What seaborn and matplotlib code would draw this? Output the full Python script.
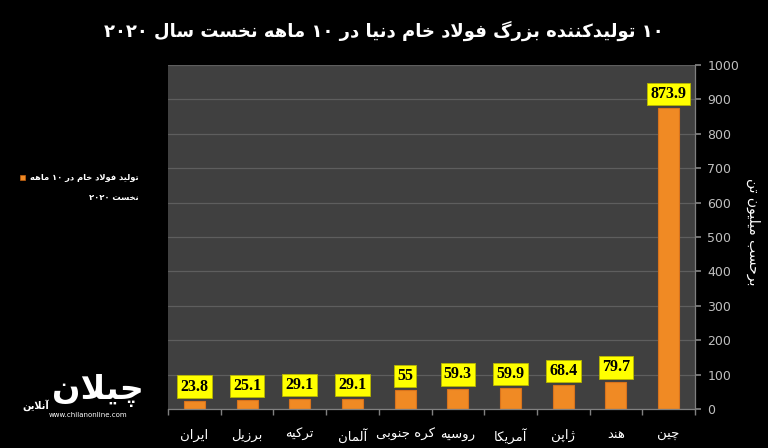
import re
import matplotlib
matplotlib.use("Agg")
import matplotlib.pyplot as plt
import seaborn as sns
import pandas as pd

# ---------------- data ----------------
categories = ["ایران", "برزیل", "ترکیه", "آلمان", "کره جنوبی",
              "روسیه", "آمریکا", "ژاپن", "هند", "چین"]
values = [23.8, 25.1, 29.1, 29.1, 55, 59.3, 59.9, 68.4, 79.7, 873.9]
yticks = [0, 100, 200, 300, 400, 500, 600, 700, 800, 900, 1000]
title_text = "۱۰ تولیدکننده بزرگ فولاد خام دنیا در ۱۰ ماهه نخست سال ۲۰۲۰"
legend_lines = ["تولید فولاد خام در ۱۰ ماهه", "نخست ۲۰۲۰"]
ylabel_text = "برحسب میلیون تن"

# ---------------- simple Persian shaper ----------------
FORMS = {
    'ا': ('\uFE8D', '\uFE8E', None, None),
    'آ': ('\uFE81', '\uFE82', None, None),
    'ب': ('\uFE8F', '\uFE90', '\uFE91', '\uFE92'),
    'پ': ('\uFB56', '\uFB57', '\uFB58', '\uFB59'),
    'ت': ('\uFE95', '\uFE96', '\uFE97', '\uFE98'),
    'ج': ('\uFE9D', '\uFE9E', '\uFE9F', '\uFEA0'),
    'چ': ('\uFB7A', '\uFB7B', '\uFB7C', '\uFB7D'),
    'ح': ('\uFEA1', '\uFEA2', '\uFEA3', '\uFEA4'),
    'خ': ('\uFEA5', '\uFEA6', '\uFEA7', '\uFEA8'),
    'د': ('\uFEA9', '\uFEAA', None, None),
    'ر': ('\uFEAD', '\uFEAE', None, None),
    'ز': ('\uFEAF', '\uFEB0', None, None),
    'ژ': ('\uFB8A', '\uFB8B', None, None),
    'س': ('\uFEB1', '\uFEB2', '\uFEB3', '\uFEB4'),
    'ف': ('\uFED1', '\uFED2', '\uFED3', '\uFED4'),
    'ک': ('\uFB8E', '\uFB8F', '\uFB90', '\uFB91'),
    'گ': ('\uFB92', '\uFB93', '\uFB94', '\uFB95'),
    'ل': ('\uFEDD', '\uFEDE', '\uFEDF', '\uFEE0'),
    'م': ('\uFEE1', '\uFEE2', '\uFEE3', '\uFEE4'),
    'ن': ('\uFEE5', '\uFEE6', '\uFEE7', '\uFEE8'),
    'ه': ('\uFEE9', '\uFEEA', '\uFEEB', '\uFEEC'),
    'و': ('\uFEED', '\uFEEE', None, None),
    'ی': ('\uFBFC', '\uFBFD', '\uFBFE', '\uFBFF'),
}


def _dual(ch):
    return ch in FORMS and FORMS[ch][2] is not None


def fa(text):
    chars = list(text)
    n = len(chars)
    res = []
    i = 0
    while i < n:
        c = chars[i]
        prev_join = i > 0 and _dual(chars[i - 1])
        if c == 'ل' and i + 1 < n and chars[i + 1] in ('ا', 'آ'):
            if chars[i + 1] == 'ا':
                res.append('\uFEFC' if prev_join else '\uFEFB')
            else:
                res.append('\uFEF6' if prev_join else '\uFEF5')
            i += 2
            continue
        if c in FORMS:
            iso, fin, ini, med = FORMS[c]
            next_join = ini is not None and i + 1 < n and chars[i + 1] in FORMS
            if prev_join and next_join:
                res.append(med)
            elif prev_join:
                res.append(fin)
            elif next_join:
                res.append(ini)
            else:
                res.append(iso)
        else:
            res.append(c)
        i += 1
    vis = ''.join(reversed(res))
    vis = re.sub(r'[0-9\u06F0-\u06F9.]+', lambda m: m.group(0)[::-1], vis)
    return vis


# ---------------- plot ----------------
sns.set_theme(style="dark")
plt.rcParams['font.family'] = ['DejaVu Sans']

df = pd.DataFrame({"cat": [fa(c) for c in categories], "val": values})

fig = plt.figure(figsize=(7.68, 4.48), dpi=100, facecolor="black")
ax = fig.add_axes([168 / 768, 1 - 409 / 448, (695 - 168) / 768, (409 - 65) / 448])
ax.set_facecolor("#404040")

sns.barplot(data=df, x="cat", y="val", color="#F08A24", width=0.4,
            saturation=1, ax=ax, edgecolor="#D9731C", linewidth=0.8)

ax.set_ylim(0, 1000)
ax.set_xlim(-0.5, len(categories) - 0.5)
ax.set_yticks(yticks)
ax.yaxis.tick_right()
ax.grid(axis="y", color="#5E5E5E", linewidth=0.9)
ax.grid(axis="x", visible=False)
ax.set_axisbelow(True)
for s in ["top", "left"]:
    ax.spines[s].set_visible(False)
for s in ["right", "bottom"]:
    ax.spines[s].set_color("#808080")
    ax.spines[s].set_linewidth(0.9)

ax.tick_params(axis="y", which="major", right=True, left=False, length=4,
               color="#808080", labelcolor="#BFBFBF", labelsize=9, pad=5)
ax.set_xticks(range(len(categories)))
ax.set_xticks([i - 0.5 for i in range(len(categories) + 1)], minor=True)
ax.tick_params(axis="x", which="major", length=0, labelcolor="white",
               labelsize=9.5, pad=14)
ax.tick_params(axis="x", which="minor", bottom=True, length=4, color="#808080")
ax.set_xlabel("")
ax.set_ylabel("")

cont = ax.containers[0]
ax.bar_label(cont, labels=[f"{v:g}" for v in values], padding=4.5,
             fontsize=11.5, fontweight="bold", family="Liberation Serif",
             color="black",
             bbox=dict(boxstyle="square,pad=0.2", facecolor="#FFFF00",
                       edgecolor="#B8B800", linewidth=0.6))

# y label
fig.text(753 / 768, 1 - 232 / 448, fa(ylabel_text), rotation=-90,
         color="white", fontsize=10, ha="center", va="center")

# title
fig.text(384 / 768, 1 - 31 / 448, fa(title_text), color="white",
         fontsize=13, fontweight="bold", ha="center", va="center")

# legend
fig.patches.append(plt.Rectangle((20 / 768, 1 - 180 / 448), 5 / 768, 5 / 448,
                                 transform=fig.transFigure, facecolor="#F08A24",
                                 edgecolor="#C06010", linewidth=0.5))
fig.text(139 / 768, 1 - 177 / 448, fa(legend_lines[0]), color="white",
         fontsize=6.0, fontweight="bold", ha="right", va="center")
fig.text(139 / 768, 1 - 197 / 448, fa(legend_lines[1]), color="white",
         fontsize=6.0, fontweight="bold", ha="right", va="center")

# logo (text approximation)
fig.text(98 / 768, 1 - 390 / 448, fa("چیلان"), color="white", fontsize=24,
         fontweight="bold", ha="center", va="center")
fig.text(36 / 768, 1 - 405 / 448, fa("آنلاین"), color="white", fontsize=7,
         fontweight="bold", ha="center", va="center")
fig.text(88 / 768, 1 - 415 / 448, "www.chilanonline.com", color="white",
         fontsize=5, ha="center", va="center")

fig.savefig("out.png", dpi=100, facecolor="black")
